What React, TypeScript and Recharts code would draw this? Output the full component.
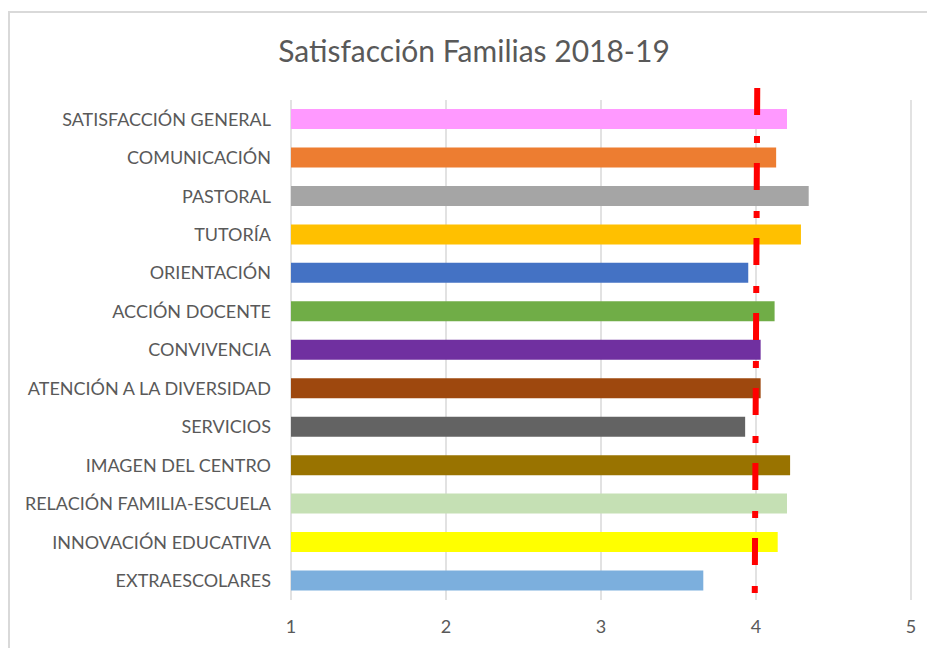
import React from 'react';
import {
  Bar,
  CartesianGrid,
  Cell,
  ComposedChart,
  Scatter,
  ScatterChart,
  XAxis,
  YAxis,
} from 'recharts';

const categories = [
  'SATISFACCIÓN GENERAL',
  'COMUNICACIÓN',
  'PASTORAL',
  'TUTORÍA ',
  'ORIENTACIÓN',
  'ACCIÓN DOCENTE',
  'CONVIVENCIA',
  'ATENCIÓN A LA DIVERSIDAD',
  'SERVICIOS',
  'IMAGEN DEL CENTRO',
  'RELACIÓN FAMILIA-ESCUELA',
  'INNOVACIÓN EDUCATIVA',
  'EXTRAESCOLARES',
];

const scores = [4.2, 4.13, 4.34, 4.29, 3.95, 4.12, 4.03, 4.03, 3.93, 4.22, 4.2, 4.14, 3.66];

const barColors = [
  '#FF99FF',
  '#ED7D31',
  '#A5A5A5',
  '#FFC000',
  '#4472C4',
  '#70AD47',
  '#7030A0',
  '#9E480E',
  '#636363',
  '#997300',
  '#C5E0B4',
  '#FFFF00',
  '#7CAFDD',
];

const xTicks = [1, 2, 3, 4, 5];

// objective line: x value at its top and bottom end (secondary 0-1 vertical axis)
const targetX = [4.008, 3.992];
const targetY = [1, 0];

const data = categories.map((name, i) => ({ name, score: scores[i] }));
const target = targetX.map((x, i) => ({ x, y: targetY[i] }));

const FONT = 'Lato, "Open Sans", sans-serif';
const TEXT = '#595959';
const W = 927;
const H = 648;
const MARGIN = { top: 100, right: 16, bottom: 18, left: 0 };

const NoDot = () => <g />;

const App: React.FC = () => {
  return (
    <div style={{ position: 'absolute', left: 0, top: 0, width: W, height: H, background: '#fff', fontFamily: FONT }}>
      <div
        style={{
          position: 'absolute',
          left: 8,
          top: 11,
          width: 919,
          height: 637,
          borderLeft: '2px solid #D9D9D9',
          borderTop: '2px solid #D9D9D9',
          boxSizing: 'border-box',
        }}
      />
      <div
        style={{
          position: 'absolute',
          left: 8,
          width: 932,
          top: 30,
          textAlign: 'center',
          fontSize: 30,
          color: TEXT,
          lineHeight: '40px',
        }}
      >
        Satisfacción Familias 2018-19
      </div>
      <div style={{ position: 'absolute', left: 0, top: 0 }}>
        <ComposedChart width={W} height={H} data={data} layout="vertical" margin={MARGIN}>
          <CartesianGrid horizontal={false} stroke="#D9D9D9" strokeWidth={1.5} />
          <XAxis
            type="number"
            domain={[1, 5]}
            ticks={xTicks}
            axisLine={false}
            tickLine={false}
            tickMargin={14}
            height={30}
            tick={{ fill: TEXT, fontSize: 18, fontFamily: FONT }}
          />
          <YAxis
            type="category"
            dataKey="name"
            width={291}
            axisLine={false}
            tickLine={false}
            tickMargin={14}
            interval={0}
            tick={{ fill: TEXT, fontSize: 18, fontFamily: FONT }}
          />
          <Bar dataKey="score" barSize={20} isAnimationActive={false}>
            {data.map((d, i) => (
              <Cell key={d.name} fill={barColors[i]} />
            ))}
          </Bar>
        </ComposedChart>
      </div>
      {/* secondary axes overlay for the red objective line */}
      <div style={{ position: 'absolute', left: 0, top: 0, pointerEvents: 'none' }}>
        <ScatterChart width={W} height={H} margin={{ top: 88, right: MARGIN.right, bottom: 53, left: 291 }}>
          <XAxis type="number" dataKey="x" domain={[1, 5]} hide />
          <YAxis type="number" dataKey="y" domain={[0, 1]} hide />
          <Scatter
            data={target}
            shape={NoDot}
            line={{ stroke: '#FF0000', strokeWidth: 6, strokeDasharray: '27 21 7 20' }}
            isAnimationActive={false}
          />
        </ScatterChart>
      </div>
    </div>
  );
};

export default App;
